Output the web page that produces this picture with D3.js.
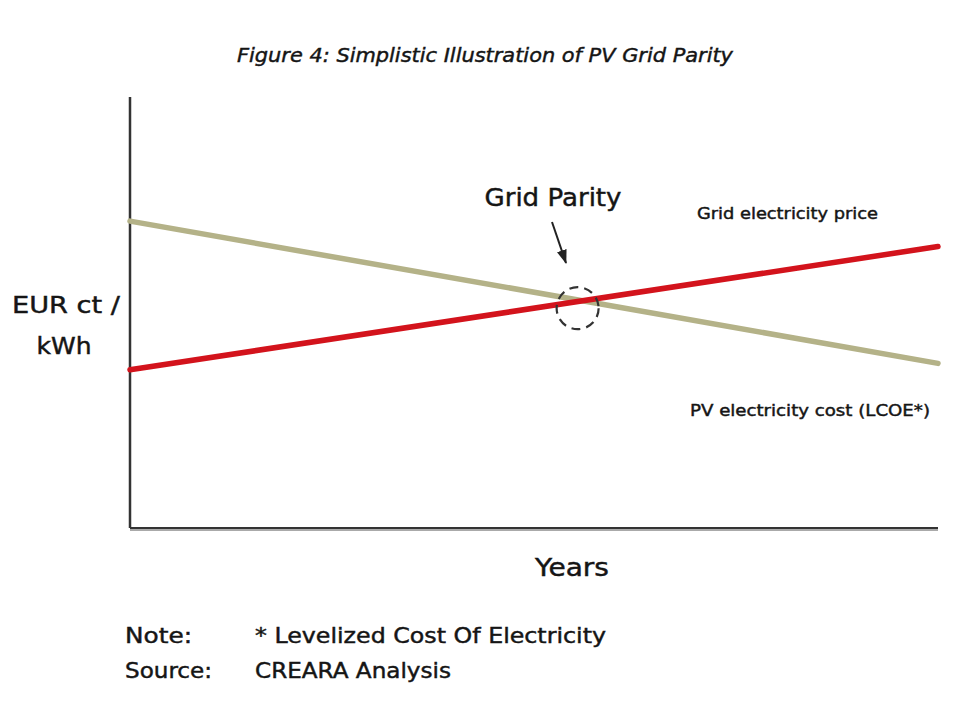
<!DOCTYPE html>
<html>
<head>
<meta charset="utf-8">
<script src="https://cdn.jsdelivr.net/npm/d3@7/dist/d3.min.js"></script>
<style>
  body { margin: 0; background: #fff; }
  text { font-family: "DejaVu Sans", sans-serif; fill: #151515; stroke: #151515; stroke-width: 0.45px; }
</style>
</head>
<body>
<div id="chart"></div>
<script>
const years = [0, 10];
const gridPrice = [3.67, 6.53];
const pvCost = [7.12, 3.82];
const parityYear = 5.54;
const parityValue = 5.1;

const width = 960;
const height = 720;
const margin = { left: 130, right: 22, top: 97, bottom: 192 };

const svg = d3
  .select("#chart")
  .append("svg")
  .attr("width", width)
  .attr("height", height);

const x = d3.scaleLinear().domain([0, 10]).range([margin.left, width - margin.right]);
const y = d3.scaleLinear().domain([0, 10]).range([height - margin.bottom, margin.top]);

// helper for labels, width pinned to the reference
const label = (tx, ty, str, size, len, anchor = "start", italic = false) =>
  svg
    .append("text")
    .attr("x", tx)
    .attr("y", ty)
    .attr("text-anchor", anchor)
    .attr("textLength", len)
    .attr("lengthAdjust", "spacingAndGlyphs")
    .style("font-size", size + "px")
    .style("font-style", italic ? "italic" : "normal")
    .text(str);

// axes: plain lines, no ticks
svg
  .append("line")
  .attr("x1", x(0))
  .attr("x2", x(10))
  .attr("y1", y(0) + 2)
  .attr("y2", y(0) + 2)
  .attr("stroke", "#aaa")
  .attr("stroke-width", 2);
svg
  .append("line")
  .attr("x1", x(0))
  .attr("x2", x(10))
  .attr("y1", y(0))
  .attr("y2", y(0))
  .attr("stroke", "#333")
  .attr("stroke-width", 2);
svg
  .append("line")
  .attr("x1", x(0))
  .attr("x2", x(0))
  .attr("y1", y(10))
  .attr("y2", y(0))
  .attr("stroke", "#333")
  .attr("stroke-width", 2.5);

const line = d3
  .line()
  .x((d, i) => x(years[i]))
  .y((d) => y(d));

svg
  .append("path")
  .datum(pvCost)
  .attr("d", line)
  .attr("fill", "none")
  .attr("stroke", "#b4b288")
  .attr("stroke-width", 5.5)
  .attr("stroke-linecap", "round");

svg
  .append("path")
  .datum(gridPrice)
  .attr("d", line)
  .attr("fill", "none")
  .attr("stroke", "#d3131c")
  .attr("stroke-width", 5.5)
  .attr("stroke-linecap", "round");

// grid parity marker
svg
  .append("circle")
  .attr("cx", x(parityYear))
  .attr("cy", y(parityValue))
  .attr("r", 21)
  .attr("fill", "none")
  .attr("stroke", "#333")
  .attr("stroke-width", 2.2)
  .attr("stroke-dasharray", "9,6");

svg
  .append("defs")
  .append("marker")
  .attr("id", "arrow")
  .attr("viewBox", "0 0 14 10")
  .attr("refX", 13)
  .attr("refY", 5)
  .attr("markerWidth", 7)
  .attr("markerHeight", 5.5)
  .attr("orient", "auto")
  .append("path")
  .attr("d", "M0,0 L14,5 L0,10 z")
  .attr("fill", "#222");

svg
  .append("line")
  .attr("x1", 552)
  .attr("y1", 222)
  .attr("x2", 566)
  .attr("y2", 263)
  .attr("stroke", "#222")
  .attr("stroke-width", 2)
  .attr("marker-end", "url(#arrow)");

label(553, 206, "Grid Parity", 25, 137, "middle");
label(697, 219, "Grid electricity price", 16, 181);
label(690, 416, "PV electricity cost (LCOE*)", 16, 240);

// title
label(485, 62, "Figure 4: Simplistic Illustration of PV Grid Parity", 20, 496, "middle", true);

// axis labels
label(66, 313, "EUR ct /", 23, 108, "middle");
label(64, 354, "kWh", 23, 55, "middle");
label(572, 576, "Years", 25, 74, "middle");

// footnotes
const noteKeys = ["Note:", "Source:"];
const noteTexts = ["* Levelized Cost Of Electricity", "CREARA Analysis"];
const keyLens = [67, 87];
const textLens = [351, 196];
noteKeys.forEach((k, i) => {
  label(125, 643 + i * 35, k, 21, keyLens[i]);
  label(255, 643 + i * 35, noteTexts[i], 21, textLens[i]);
});
</script>
</body>
</html>
